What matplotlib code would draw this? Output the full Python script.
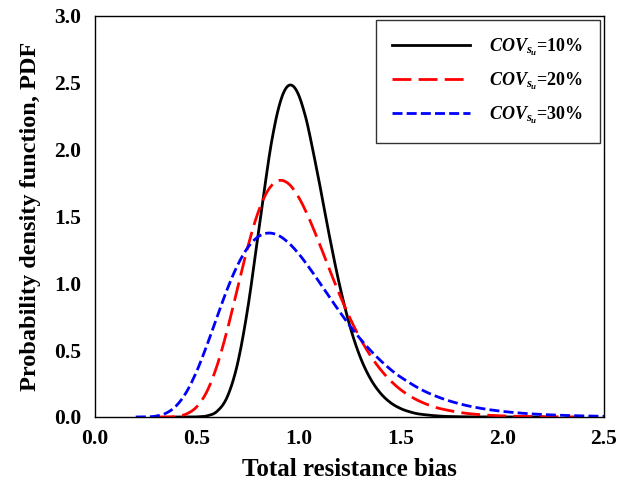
import matplotlib
matplotlib.use("Agg")
import numpy as np
import matplotlib.pyplot as plt

plt.rcParams['font.family'] = ['Liberation Serif', 'DejaVu Serif']
plt.rcParams['font.weight'] = 'bold'
plt.rcParams['mathtext.fontset'] = 'custom'
plt.rcParams['mathtext.rm'] = 'Liberation Serif:bold'
plt.rcParams['mathtext.it'] = 'Liberation Serif:bold:italic'
plt.rcParams['mathtext.bf'] = 'Liberation Serif:bold'

# COV = 10 %
x_10 = [0.40, 0.45, 0.50, 0.55, 0.60, 0.65, 0.70, 0.75, 0.80, 0.85, 0.875, 0.90, 0.925,
        0.95, 0.975, 1.00, 1.025, 1.05, 1.10, 1.15, 1.20, 1.25, 1.30, 1.35, 1.40, 1.45,
        1.50, 1.55, 1.60, 1.70, 1.80, 1.90, 2.00, 2.20]
y_10 = [0.0, 0.0001, 0.001, 0.0083, 0.043, 0.152, 0.398, 0.811, 1.350, 1.893, 2.122, 2.301, 2.422,
        2.479, 2.473, 2.410, 2.296, 2.144, 1.768, 1.365, 0.996, 0.691, 0.459, 0.294, 0.182, 0.109,
        0.064, 0.037, 0.0206, 0.0062, 0.0017, 0.0005, 0.0001, 0.0]

# COV = 20 %
x_20 = [0.30, 0.35, 0.40, 0.45, 0.50, 0.55, 0.60, 0.65, 0.70, 0.75, 0.80, 0.85, 0.90,
        0.95, 1.00, 1.05, 1.10, 1.15, 1.20, 1.25, 1.30, 1.35, 1.40, 1.45, 1.50, 1.55,
        1.60, 1.65, 1.70, 1.80, 1.90, 2.00, 2.10, 2.20, 2.30, 2.40]
y_20 = [0.00004, 0.0006, 0.0049, 0.0233, 0.077, 0.192, 0.387, 0.654, 0.964, 1.270, 1.526, 1.696, 1.768,
        1.746, 1.645, 1.490, 1.306, 1.110, 0.921, 0.747, 0.595, 0.466, 0.360, 0.274, 0.206, 0.154,
        0.114, 0.0837, 0.0611, 0.0320, 0.0165, 0.0084, 0.0042, 0.0021, 0.0011, 0.0005]

# COV = 30 %
x_30 = [0.20, 0.25, 0.30, 0.35, 0.40, 0.45, 0.50, 0.55, 0.60, 0.65, 0.70, 0.75, 0.80,
        0.85, 0.90, 0.95, 1.00, 1.05, 1.10, 1.15, 1.20, 1.25, 1.30, 1.35, 1.40, 1.45,
        1.50, 1.60, 1.70, 1.80, 1.90, 2.00, 2.10, 2.20, 2.30, 2.40, 2.50]
y_30 = [0.00005, 0.0009, 0.0069, 0.0294, 0.0852, 0.189, 0.344, 0.538, 0.751, 0.958, 1.135, 1.267, 1.347,
        1.376, 1.359, 1.304, 1.222, 1.122, 1.013, 0.901, 0.791, 0.686, 0.590, 0.503, 0.426, 0.358,
        0.300, 0.207, 0.141, 0.095, 0.0635, 0.0423, 0.0280, 0.0185, 0.0122, 0.0081, 0.0053]

labels = [r'$COV_{s_u}$=10%', r'$COV_{s_u}$=20%', r'$COV_{s_u}$=30%']
x_ticks = [0.0, 0.5, 1.0, 1.5, 2.0, 2.5]
y_ticks = [0.0, 0.5, 1.0, 1.5, 2.0, 2.5, 3.0]


def smooth(xs, ys, n=12):
    """Catmull-Rom rendering through the read points (for a smooth drawn line)."""
    p = np.column_stack([xs, ys]).astype(float)
    p_ext = np.vstack([2 * p[0] - p[1], p, 2 * p[-1] - p[-2]])
    out = []
    t = np.linspace(0, 1, n, endpoint=False)[:, None]
    for i in range(1, len(p_ext) - 2):
        p0, p1, p2, p3 = p_ext[i - 1], p_ext[i], p_ext[i + 1], p_ext[i + 2]
        seg = 0.5 * ((2 * p1) + (-p0 + p2) * t + (2 * p0 - 5 * p1 + 4 * p2 - p3) * t ** 2
                     + (-p0 + 3 * p1 - 3 * p2 + p3) * t ** 3)
        out.append(seg)
    out.append(p[-1][None, :])
    out = np.vstack(out)
    out[:, 1] = np.clip(out[:, 1], 0, None)
    return out[:, 0], out[:, 1]


fig = plt.figure(figsize=(6.31, 4.95), dpi=100)
ax = fig.add_axes([0.1506, 0.1576, 0.8065, 0.8101])

sx, sy = smooth(x_10, y_10)
ax.plot(sx, sy, color='black', lw=2.0, linestyle='-', label=labels[0])
sx, sy = smooth(x_20, y_20)
ax.plot(sx, sy, color='#ff0000', lw=2.0, linestyle=(0, (6.8, 2.6)), label=labels[1])
sx, sy = smooth(x_30, y_30)
ax.plot(sx, sy, color='#0000ff', lw=2.0, linestyle=(0, (3.6, 1.5)), label=labels[2])

ax.set_xlim(0, 2.5)
ax.set_ylim(0, 3.0)
ax.set_xticks(x_ticks)
ax.set_yticks(y_ticks)
ax.set_xticklabels([f'{v:.1f}' for v in x_ticks], fontsize=15.5, fontweight='bold')
ax.set_yticklabels([f'{v:.1f}' for v in y_ticks], fontsize=15.5, fontweight='bold')
ax.tick_params(axis='x', length=0, pad=9)
ax.tick_params(axis='y', length=0, pad=10)
for s in ax.spines.values():
    s.set_linewidth(1.0)
    s.set_color('black')

ax.set_xlabel('Total resistance bias', fontsize=18, fontweight='bold', labelpad=6)
ax.set_ylabel('Probability density function, PDF', fontsize=17.5, fontweight='bold', labelpad=9)

leg = ax.legend(loc='upper right', fontsize=13, handlelength=4.3, handletextpad=1.1,
                frameon=True, fancybox=False, edgecolor='black', borderpad=0.9,
                labelspacing=0.7, borderaxespad=0, bbox_to_anchor=(0.992, 0.990))
leg.get_frame().set_linewidth(1.0)

fig.savefig('out.png', dpi=100)
